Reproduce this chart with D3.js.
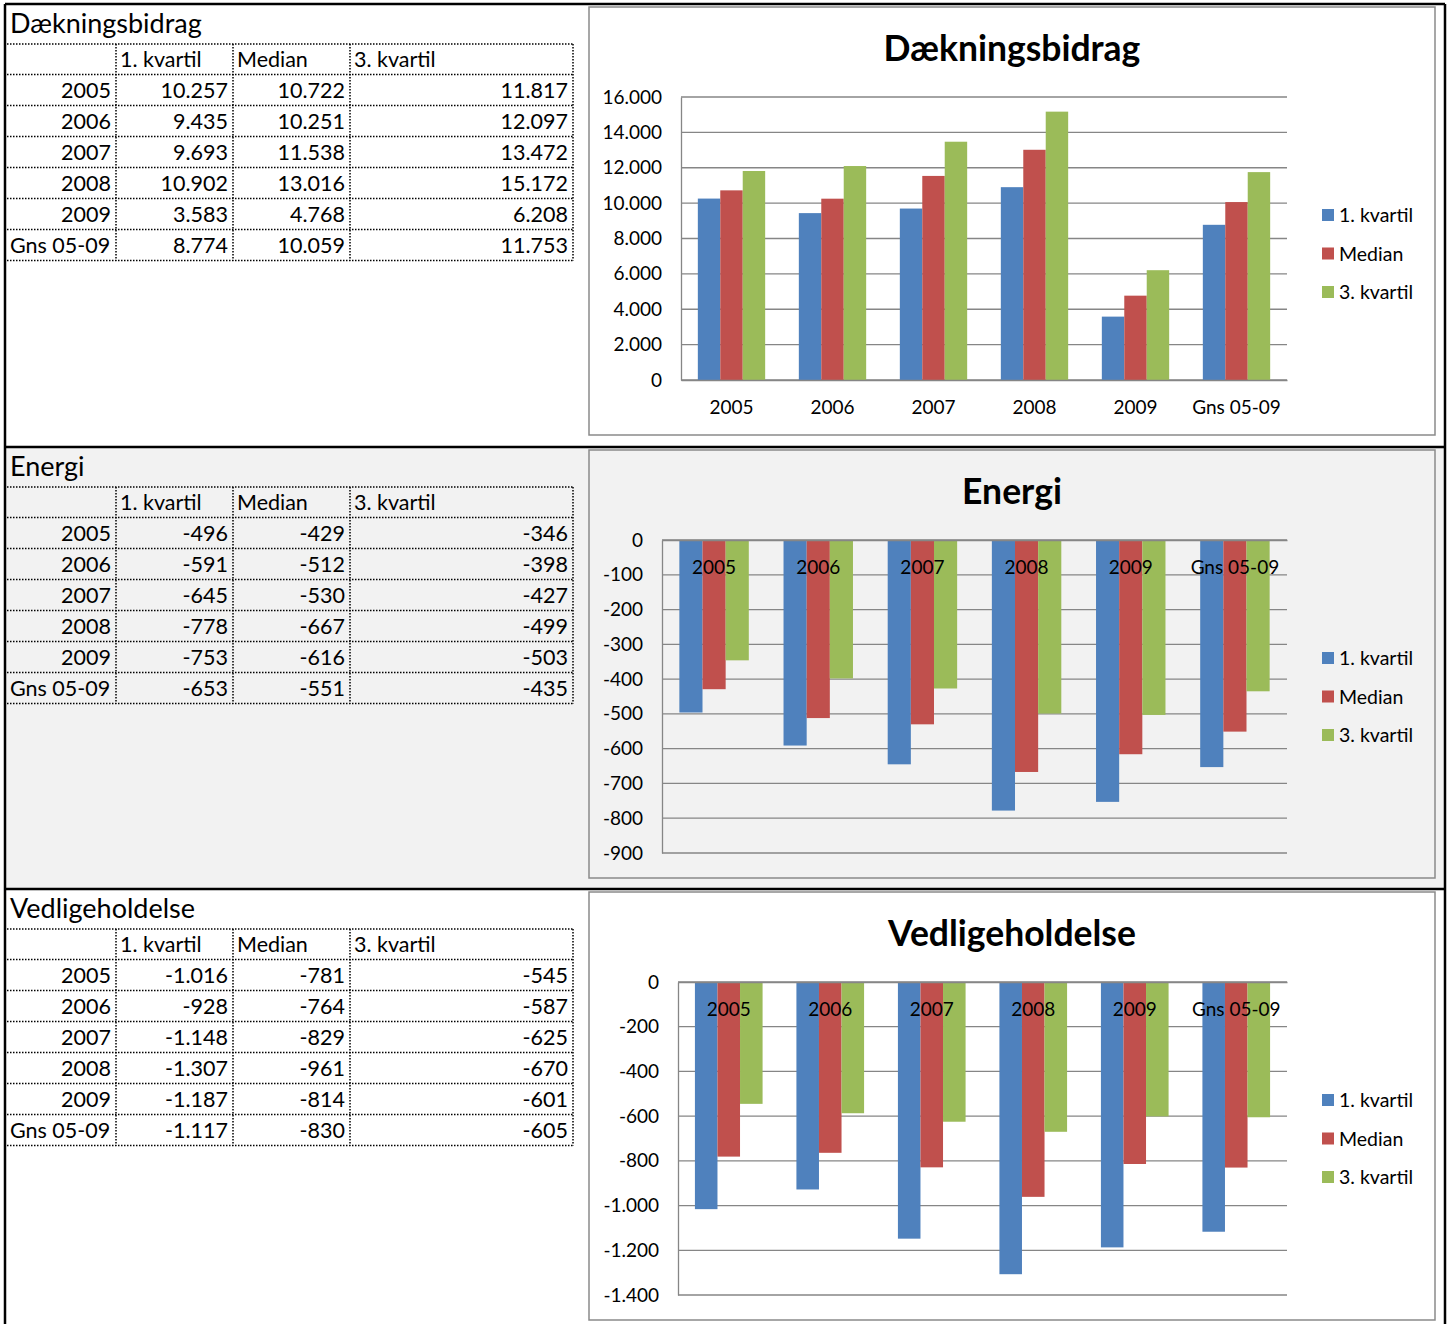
<!DOCTYPE html>
<html>
<head>
<meta charset="utf-8">
<script src="https://cdn.jsdelivr.net/npm/d3@7"></script>
<style>
  body { margin: 0; background: #fff; }
  text { font-family: Lato, "Open Sans", sans-serif; }
</style>
</head>
<body>
<div id="chart"></div>
<script>
// data
const categories = ["2005", "2006", "2007", "2008", "2009", "Gns 05-09"];
const seriesNames = ["1. kvartil", "Median", "3. kvartil"];
const colors = ["#4f81bd", "#c0504d", "#9bbb59"];

const daekQ1 = [10257, 9435, 9693, 10902, 3583, 8774];
const daekMedian = [10722, 10251, 11538, 13016, 4768, 10059];
const daekQ3 = [11817, 12097, 13472, 15172, 6208, 11753];

const energiQ1 = [-496, -591, -645, -778, -753, -653];
const energiMedian = [-429, -512, -530, -667, -616, -551];
const energiQ3 = [-346, -398, -427, -499, -503, -435];

const vedlQ1 = [-1016, -928, -1148, -1307, -1187, -1117];
const vedlMedian = [-781, -764, -829, -961, -814, -830];
const vedlQ3 = [-545, -587, -625, -670, -601, -605];

const daekTicks = [0, 2000, 4000, 6000, 8000, 10000, 12000, 14000, 16000];
const energiTicks = [0, -100, -200, -300, -400, -500, -600, -700, -800, -900];
const vedlTicks = [0, -200, -400, -600, -800, -1000, -1200, -1400];

const sections = [
  { title: "Dækningsbidrag", series: [daekQ1, daekMedian, daekQ3], domain: [0, 16000], ticks: daekTicks,
    top: 4, bg: "#ffffff", plotLeft: 681, plotBottom: 376 },
  { title: "Energi", series: [energiQ1, energiMedian, energiQ3], domain: [-900, 0], ticks: energiTicks,
    top: 447, bg: "#f2f2f2", plotLeft: 662, plotBottom: 406 },
  { title: "Vedligeholdelse", series: [vedlQ1, vedlMedian, vedlQ3], domain: [-1400, 0], ticks: vedlTicks,
    top: 889, bg: "#ffffff", plotLeft: 678, plotBottom: 406 }
];

const locale = d3.formatLocale({ decimal: ",", thousands: ".", grouping: [3], currency: ["", " kr"], minus: "-" });
const fmt = locale.format(",d");

const W = 1449, H = 1324;
const svg = d3.select("#chart").append("svg")
  .attr("width", W).attr("height", H);

const gridColor = "#868686";
const FONT = "Lato, 'Open Sans', sans-serif";

sections.forEach((s, si) => {
  const g = svg.append("g").attr("transform", `translate(0,${s.top})`);
  const secH = si < 2 ? sections[si + 1].top - s.top : H - s.top;

  g.append("rect").attr("x", 5).attr("y", 0).attr("width", 1440).attr("height", secH)
    .attr("fill", s.bg);

  // ---- table ----
  g.append("text").attr("x", 10).attr("y", 29).attr("font-size", 27).attr("fill", "#000")
    .text(s.title);

  const colX = [7, 116, 233, 350, 573];
  const rowY = d3.range(8).map(i => 40 + (i === 0 ? 0 : 30.5 + (i - 1) * 31));
  const dot = { stroke: "#000", "stroke-width": 1.5, "stroke-dasharray": "1.5,1.5" };

  rowY.forEach(y => {
    const l = g.append("line").attr("x1", colX[0]).attr("x2", colX[4]).attr("y1", y).attr("y2", y);
    Object.entries(dot).forEach(([k, v]) => l.attr(k, v));
  });
  colX.slice(1).forEach(x => {
    const l = g.append("line").attr("x1", x).attr("x2", x).attr("y1", rowY[0]).attr("y2", rowY[7]);
    Object.entries(dot).forEach(([k, v]) => l.attr(k, v));
  });

  seriesNames.forEach((n, j) => {
    g.append("text").attr("x", colX[j + 1] + 4).attr("y", rowY[0] + 23)
      .attr("font-size", 21.5).text(n);
  });
  categories.forEach((c, i) => {
    const y = rowY[i + 1] + 23;
    const isYear = /^\d+$/.test(c);
    g.append("text").attr("x", isYear ? colX[1] - 5 : 10).attr("y", y)
      .attr("text-anchor", isYear ? "end" : "start").attr("font-size", 21.5).text(c);
    s.series.forEach((vals, j) => {
      g.append("text").attr("x", colX[j + 2] - 5).attr("y", y)
        .attr("text-anchor", "end").attr("font-size", 21.5).text(fmt(vals[i]));
    });
  });

  // ---- chart panel ----
  g.append("rect").attr("x", 589).attr("y", 3).attr("width", 846).attr("height", 428)
    .attr("fill", s.bg).attr("stroke", "#8a8a8a").attr("stroke-width", 1.5);

  g.append("text").attr("x", 1012).attr("y", 57).attr("text-anchor", "middle")
    .attr("font-size", 35.5).attr("font-weight", "bold").text(s.title);

  const plotTop = 93, plotRight = 1287;
  const x = d3.scaleBand().domain(categories).range([s.plotLeft, plotRight])
    .paddingInner(1.5 / 4.5).paddingOuter(0.75 / 4.5);
  const y = d3.scaleLinear().domain(s.domain).range([s.plotBottom, plotTop]);
  const xs = d3.scaleBand().domain(d3.range(3)).range([0, x.bandwidth()]);

  // gridlines
  g.append("g").selectAll("line").data(s.ticks).join("line")
    .attr("x1", s.plotLeft).attr("x2", plotRight)
    .attr("y1", d => y(d)).attr("y2", d => y(d))
    .attr("stroke", gridColor).attr("stroke-width", 1.3);

  // y axis
  const yAxis = g.append("g").attr("transform", `translate(${s.plotLeft},0)`)
    .call(d3.axisLeft(y).tickValues(s.ticks).tickFormat(fmt).tickSize(0).tickPadding(19));
  yAxis.select(".domain").attr("stroke", gridColor).attr("stroke-width", 1.3);
  yAxis.selectAll("text").attr("font-size", 19).attr("fill", "#000").style("font-family", FONT);

  // bars
  s.series.forEach((vals, j) => {
    g.append("g").selectAll("rect").data(vals).join("rect")
      .attr("x", (d, i) => x(categories[i]) + xs(j))
      .attr("width", xs.bandwidth())
      .attr("y", d => y(Math.max(0, d)))
      .attr("height", d => Math.abs(y(d) - y(0)))
      .attr("fill", colors[j]);
  });

  // x axis at zero
  const xAxis = g.append("g").attr("transform", `translate(0,${y(0)})`)
    .call(d3.axisBottom(x).tickSize(0).tickPadding(21));
  xAxis.select(".domain").attr("stroke", gridColor).attr("stroke-width", 1.3);
  xAxis.selectAll("text").attr("font-size", 19).attr("fill", "#000").style("font-family", FONT);

  // legend
  const leg = g.append("g").attr("transform", "translate(1322,0)");
  seriesNames.forEach((n, j) => {
    const ly = 211 + j * 38.5;
    leg.append("rect").attr("x", 0).attr("y", ly - 6).attr("width", 12).attr("height", 12)
      .attr("fill", colors[j]);
    leg.append("text").attr("x", 17).attr("y", ly + 7).attr("font-size", 19.5).text(n);
  });
});

// outer frame and separators
const frame = svg.append("g").attr("stroke", "#000").attr("stroke-width", 2.5);
frame.append("line").attr("x1", 5).attr("x2", 1445).attr("y1", 4).attr("y2", 4);
frame.append("line").attr("x1", 5).attr("x2", 5).attr("y1", 4).attr("y2", H);
frame.append("line").attr("x1", 1445).attr("x2", 1445).attr("y1", 4).attr("y2", H);
sections.slice(1).forEach(s => {
  frame.append("line").attr("x1", 5).attr("x2", 1445).attr("y1", s.top).attr("y2", s.top);
});
</script>
</body>
</html>
